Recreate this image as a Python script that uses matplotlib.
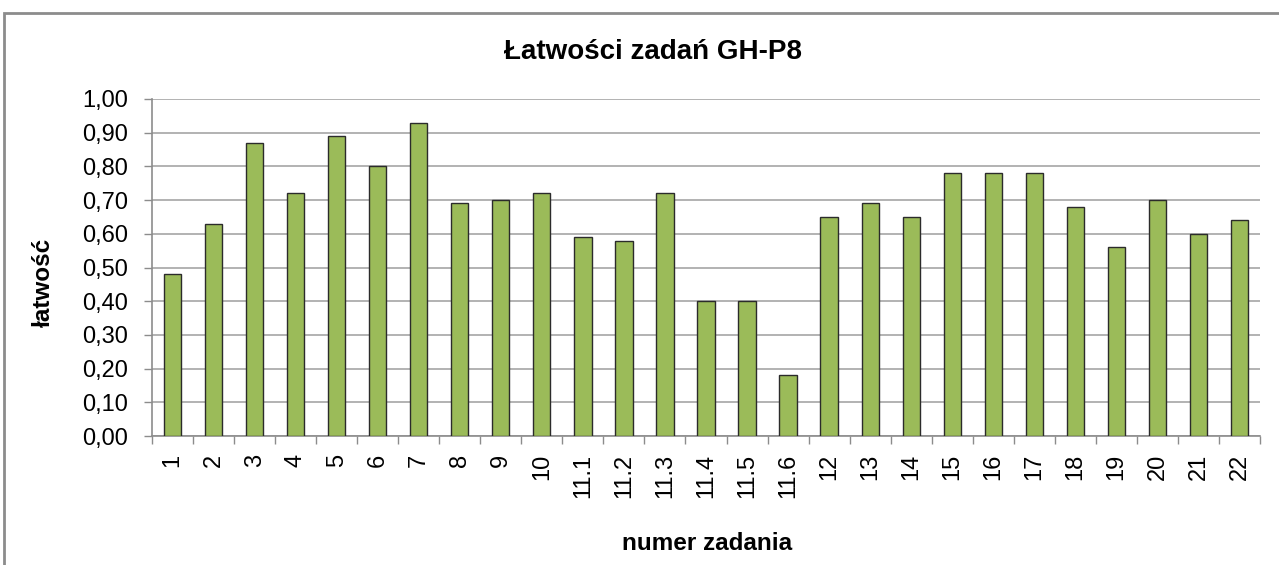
import matplotlib
matplotlib.use('Agg')
import matplotlib.pyplot as plt
from matplotlib.patches import Rectangle
from matplotlib.ticker import FuncFormatter, FixedLocator
import numpy as np

# data
zadania = ['1', '2', '3', '4', '5', '6', '7', '8', '9', '10',
           '11.1', '11.2', '11.3', '11.4', '11.5', '11.6',
           '12', '13', '14', '15', '16', '17', '18', '19', '20', '21', '22']
latwosc = [0.48, 0.63, 0.87, 0.72, 0.89, 0.80, 0.93, 0.69, 0.70, 0.72,
           0.59, 0.58, 0.72, 0.40, 0.40, 0.18,
           0.65, 0.69, 0.65, 0.78, 0.78, 0.78, 0.68, 0.56, 0.70, 0.60, 0.64]

plt.rcParams['font.family'] = ['Liberation Sans', 'DejaVu Sans']

fig = plt.figure(figsize=(12.79, 5.65), dpi=100)
ax = fig.add_axes([152 / 1279, 1 - 436 / 565, 1108 / 1279, 337 / 565])

x = np.arange(len(zadania))
ax.bar(x, latwosc, width=0.42, color='#9BBB59', edgecolor='#2b2b2b',
       linewidth=1.0, zorder=3)

ax.set_xlim(-0.5, len(zadania) - 0.5)
ax.set_ylim(0, 1.0)

# y axis
ax.set_yticks(np.arange(0, 1.01, 0.1))
ax.yaxis.set_major_formatter(FuncFormatter(lambda v, p: f'{v:.2f}'.replace('.', ',')))
ax.yaxis.grid(True, color='#a6a6a6', linewidth=1.2, zorder=0)
ax.tick_params(axis='y', length=6, width=1, color='#8c8c8c', labelsize=17, pad=11)

# x axis: tick marks between categories, labels centered
ax.xaxis.set_major_locator(FixedLocator(np.arange(-0.5, len(zadania), 1.0)))
ax.xaxis.set_major_formatter(FuncFormatter(lambda v, p: ''))
ax.xaxis.set_minor_locator(FixedLocator(x))
ax.set_xticklabels(zadania, minor=True, rotation=90)
ax.tick_params(axis='x', which='major', length=6, width=1, color='#8c8c8c')
ax.tick_params(axis='x', which='minor', length=0, labelsize=17, pad=13)

for s in ['top', 'right']:
    ax.spines[s].set_visible(False)
for s in ['left', 'bottom']:
    ax.spines[s].set_color('#8c8c8c')
    ax.spines[s].set_linewidth(1.2)

fig.text(0.5 * (498 + 808) / 1279, 1 - 52 / 565, 'Łatwości zadań GH-P8',
         ha='center', va='center', fontsize=20, fontweight='bold')
fig.text(707 / 1279, 1 - 543 / 565, 'numer zadania',
         ha='center', va='center', fontsize=17.5, fontweight='bold')
fig.text(43 / 1279, 1 - 282 / 565, 'łatwość', rotation=90,
         ha='center', va='center', fontsize=17.5, fontweight='bold')

# outer chart frame
fig.patches.append(Rectangle((4 / 1279, -0.1), 1.2, 1 - 13 / 565 + 0.1,
                             transform=fig.transFigure, fill=False,
                             edgecolor='#8c8c8c', linewidth=2))

fig.savefig('out.png', dpi=100)
